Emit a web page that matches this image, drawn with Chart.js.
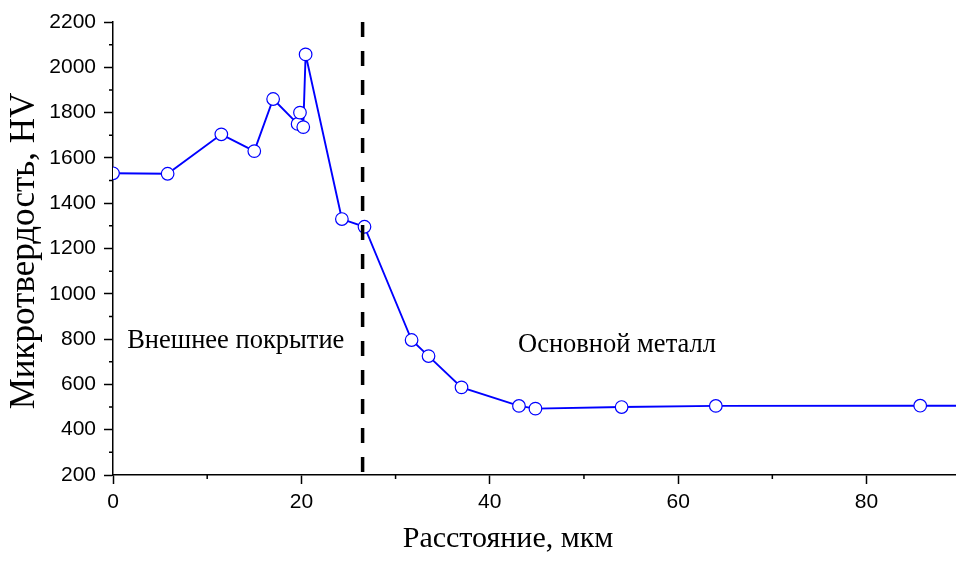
<!DOCTYPE html>
<html>
<head>
<meta charset="utf-8">
<script src="https://cdn.jsdelivr.net/npm/chart.js@4.4.1/dist/chart.umd.min.js"></script>
<style>
  html, body { margin: 0; padding: 0; background: #fff; }
</style>
</head>
<body>
<canvas id="chart" width="956" height="563"></canvas>
<script>
// distance, µm
const distance = [0, 5.8, 11.5, 15.0, 17.0, 19.6, 19.85, 20.2, 20.45, 24.3, 26.7, 31.7, 33.5, 37.0, 43.1, 44.85, 54.0, 64.0, 85.7, 100];
// microhardness, HV
const hardness = [1532, 1530, 1704, 1630, 1860, 1750, 1800, 1736, 2057, 1330, 1296, 796, 725, 587, 505, 493, 500, 505, 506, 506];

const boundaryX = 26.5;
const xTicks = [0, 20, 40, 60, 80];
const yTicks = [200, 400, 600, 800, 1000, 1200, 1400, 1600, 1800, 2000, 2200];

const regionLabels = ['Внешнее покрытие', 'Основной металл'];
const regionLabelX = [1.5, 43.0];
const regionLabelY = [792, 775];

const xTitle = 'Расстояние, мкм';
const yTitle = 'Микротвердость, HV';

const serif = '"Liberation Serif", "Times New Roman", serif';
const sans = '"Liberation Sans", Arial, sans-serif';

// minor ticks, region captions and axis titles
const extras = {
    id: 'extras',
    afterDraw(chart) {
        const ctx = chart.ctx;
        const xs = chart.scales.x, ys = chart.scales.y;
        const area = chart.chartArea;
        ctx.save();
        ctx.strokeStyle = '#000';
        ctx.lineWidth = 1.5;
        ctx.beginPath();
        for (let v = 10; v < xs.max; v += 20) {
            const px = xs.getPixelForValue(v);
            ctx.moveTo(px, area.bottom);
            ctx.lineTo(px, area.bottom + 4);
        }
        for (let v = 300; v < ys.max; v += 200) {
            const py = ys.getPixelForValue(v);
            ctx.moveTo(area.left, py);
            ctx.lineTo(area.left - 4, py);
        }
        ctx.stroke();

        ctx.fillStyle = '#000';
        ctx.font = '26.5px ' + serif;
        ctx.textBaseline = 'middle';
        ctx.textAlign = 'left';
        regionLabels.forEach((t, i) => {
            ctx.fillText(t, xs.getPixelForValue(regionLabelX[i]), ys.getPixelForValue(regionLabelY[i]));
        });

        ctx.font = '30px ' + serif;
        ctx.textAlign = 'center';
        ctx.textBaseline = 'alphabetic';
        ctx.fillText(xTitle, 508, 547);

        ctx.translate(34, 251);
        ctx.rotate(-Math.PI / 2);
        ctx.font = '35px ' + serif;
        ctx.fillText(yTitle, 0, 0);
        ctx.restore();
    }
};

new Chart(document.getElementById('chart'), {
    type: 'line',
    data: {
        datasets: [{
            data: distance.map((d, i) => ({ x: d, y: hardness[i] })),
            borderColor: '#0000ff',
            borderWidth: 1.9,
            pointRadius: 6.3,
            pointBackgroundColor: '#ffffff',
            pointBorderColor: '#0000ff',
            pointBorderWidth: 1.2,
            tension: 0,
            clip: 0,
            order: 2
        }, {
            data: [{ x: boundaryX, y: 2200 }, { x: boundaryX, y: 200 }],
            borderColor: '#000',
            borderWidth: 3.5,
            borderDash: [15, 14],
            pointRadius: 0,
            clip: 0,
            order: 1
        }]
    },
    options: {
        responsive: false,
        animation: false,
        events: [],
        layout: { autoPadding: false, padding: { top: 22, right: 0, left: 0, bottom: 0 } },
        plugins: { legend: { display: false }, tooltip: { enabled: false } },
        scales: {
            x: {
                type: 'linear',
                min: 0,
                max: 89.5,
                afterFit: s => { s.height = 88; },
                afterBuildTicks: s => { s.ticks = xTicks.map(v => ({ value: v })); },
                ticks: { color: '#000', font: { family: sans, size: 21 }, padding: 6, maxRotation: 0, callback: v => String(v) },
                grid: { drawOnChartArea: false, tickLength: 9, tickWidth: 1.5, tickColor: '#000' },
                border: { display: true, color: '#000', width: 1.5 }
            },
            y: {
                min: 200,
                max: 2200,
                afterFit: s => { s.width = 113; },
                afterBuildTicks: s => { s.ticks = yTicks.map(v => ({ value: v })); },
                ticks: { color: '#000', font: { family: sans, size: 21 }, padding: 8, callback: v => String(v) },
                grid: { drawOnChartArea: false, tickLength: 9, tickWidth: 1.5, tickColor: '#000' },
                border: { display: true, color: '#000', width: 1.5 }
            }
        }
    },
    plugins: [extras]
});
</script>
</body>
</html>
